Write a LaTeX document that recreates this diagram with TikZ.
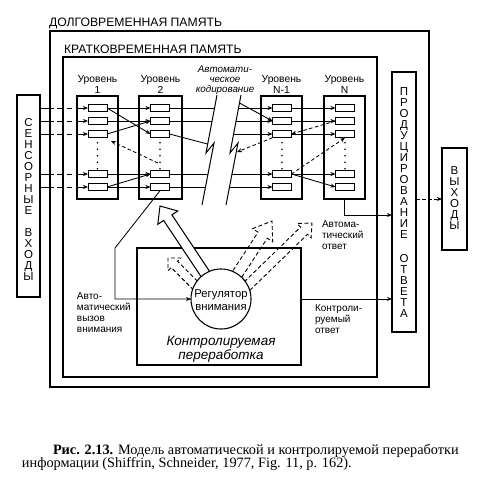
\documentclass[tikz,border=0pt]{standalone}
\usepackage{fontspec}
\setmainfont{Liberation Sans}
\newfontfamily\capfont{Liberation Serif}
\usetikzlibrary{arrows.meta,calc}
\newcommand{\holarrow}[6]{%
  \coordinate (hB) at ($(#3)!#4!(#2)$);
  \draw[#1] ($(#2)!#6!90:(#3)$) -- ($(hB)!#6!90:(#3)$) -- ($(hB)!#5!90:(#3)$) -- (#3)
    -- ($(hB)!#5!-90:(#3)$) -- ($(hB)!#6!-90:(#3)$) -- ($(#2)!#6!-90:(#3)$);}
\begin{document}
\begin{tikzpicture}[x=1pt,y=-1pt,
  every node/.style={inner sep=0pt, outer sep=0pt},
  bigbox/.style={draw, line width=1.4pt},
  lvlbox/.style={draw, line width=1.2pt},
  cell/.style={draw, line width=1pt, minimum width=19pt, minimum height=7.5pt},
  ln/.style={line width=0.85pt},
  conn/.style={ln, -{Stealth[length=5pt,width=4pt]}},
  dconn/.style={conn, dash pattern=on 3.5pt off 2.5pt},
  inconn/.style={conn, dash pattern=on 14pt off 3pt on 5pt off 5pt on 5pt off 4pt on 14pt off 0pt},
  dotline/.style={line width=1.7pt, line cap=round, dash pattern=on 0pt off 6.5pt},
  holl/.style={line width=1pt, fill=white, line join=miter},
  dholl/.style={line width=0.9pt, dash pattern=on 4pt off 2.5pt},
  lab/.style={font=\fontsize{10.3}{11}\selectfont, align=center},
  small/.style={font=\fontsize{10}{11}\selectfont, align=left, anchor=west},
  vlab/.style={font=\fontsize{11.5}{11}\selectfont, align=center},
  title/.style={font=\fontsize{12.2}{12}\selectfont, anchor=west}]
\useasboundingbox[fill=white] (0,0) rectangle (491,480);

% memory boxes
\node[bigbox, minimum width=379pt, minimum height=356pt] (ltm) at (239.5,209) {};
\node[title] (ltmt) at (49,23) {ДОЛГОВРЕМЕННАЯ ПАМЯТЬ};
\node[bigbox, minimum width=314pt, minimum height=320pt] (stm) at (220,217) {};
\node[title] (stmt) at (64,49) {КРАТКОВРЕМЕННАЯ ПАМЯТЬ};

% sensory inputs, production, outputs
\node[bigbox, minimum width=23pt, minimum height=202pt] (sens) at (28.5,196) {};
\node[vlab] (senst) at (28.5,199) {С\\Е\\Н\\С\\О\\Р\\Н\\Ы\\Е\\[11pt]В\\Х\\О\\Д\\Ы};
\node[bigbox, minimum width=24pt, minimum height=260pt] (prod) at (404,202) {};
\node[vlab] (prodt) at (404,203) {П\\Р\\О\\Д\\У\\Ц\\И\\Р\\О\\В\\А\\Н\\И\\Е\\[13pt]О\\Т\\В\\Е\\Т\\А};
\node[bigbox, minimum width=25pt, minimum height=102pt] (outs) at (454.5,199) {};
\node[vlab] (outst) at (454.5,198) {В\\Ы\\Х\\О\\Д\\Ы};

% levels
\node[lvlbox, minimum width=41pt, minimum height=103pt] (L1) at (97.5,147.5) {};
\node[lvlbox, minimum width=43pt, minimum height=103pt] (L2) at (160.5,147.5) {};
\node[lvlbox, minimum width=41pt, minimum height=103pt] (L3) at (281.5,147.5) {};
\node[lvlbox, minimum width=41pt, minimum height=103pt] (L4) at (344.5,147.5) {};
\node[lab] (L1t) at (97.5,84.5) {Уровень\\1};
\node[lab] (L2t) at (160.5,84.5) {Уровень\\2};
\node[lab] (L3t) at (281.5,84.5) {Уровень\\N-1};
\node[lab] (L4t) at (344.5,84.5) {Уровень\\N};
\foreach \n/\x in {a/97.5,b/160,c/282,d/345}{
  \foreach \r/\y in {1/108,2/121,3/134,4/174,5/187}{
    \node[cell] (\n\r) at (\x,\y) {};}
  \draw[dotline] ($(\n3.south)+(0,5)$) -- (\n4.north);}

% automatic coding break
\node[font=\fontsize{9.8}{10}\selectfont\itshape, align=center] (autot) at (225,80) {Автомати-\\ческое\\кодирование};
\draw[ln, line width=1pt] (217,95) -- (206,153) -- (214,143) -- (202,205);
\draw[ln, line width=1pt] (241,95) -- (230,153) -- (238,143) -- (226,205);
\coordinate (zl1) at (214.5,108);
\coordinate (zl2) at (212,121);
\coordinate (zl3) at (207.5,144);
\coordinate (zl4) at (208,174);
\coordinate (zl5) at (205.5,187);
\coordinate (zr1) at (238.5,108);
\coordinate (zr0) at (239.5,103);
\coordinate (zr2) at (236,121);
\coordinate (zr3) at (233.5,134);
\coordinate (zr4) at (232,174);
\coordinate (zr5) at (229.5,187);
\coordinate (zrd) at (237,152);

% inputs
\foreach \r in {1,...,5}{\draw[inconn] (sens.east |- a\r) -- (a\r.west);}

% level 1 -> level 2
\draw[conn] (a1.east) -- (b1.west);
\draw[conn] (a1.east) -- (b3.west);
\draw[conn] (a2.east) -- (b2.west);
\draw[conn] (a3.east) -- (b2.west);
\draw[conn] (a4.east) -- (b4.west);
\draw[conn] (a5.east) -- (b4.west);
\draw[conn] (a5.east) -- (b5.west);
\coordinate (fb1s) at (158,163);
\coordinate (fb1e) at (111,141);
\draw[dconn] (fb1s) -- (fb1e);

% level 2 -> break
\draw[ln] (b1.east) -- (zl1);
\draw[ln] (b2.east) -- (zl2);
\draw[ln] (b3.east) -- (zl3);
\draw[ln] (b4.east) -- (zl4);
\draw[ln] (b5.east) -- (zl5);

% break -> level N-1
\draw[conn] (zr1) -- (c1.west);
\draw[conn] (zr0) -- (c2.west);
\draw[conn] (zr2) -- (c2.west);
\draw[conn] (zr3) -- (c3.west);
\draw[conn] (zr4) -- (c4.west);
\draw[conn] (zr5) -- (c5.west);
\draw[dconn] (c3.south west) -- (zrd);

% level N-1 -> level N
\draw[conn] (c1.east) -- (d1.west);
\draw[conn] (c2.east) -- (d2.west);
\draw[conn] (c3.east) -- (d3.west);
\draw[conn] (c4.east) -- (d4.west);
\draw[conn] (c4.east) -- (d5.west);
\draw[dconn] (d2.west) -- (c3.east);
\draw[dconn] (c4.east) -- (d3.south);

% output of level N
\coordinate (outy) at (0,215);
\draw[conn] (L4.south) |- (prod.west |- outy);
\draw[dconn] (prod.east |- outs) -- (outs.west);

% controlled processing
\node[draw, line width=1.3pt, minimum width=164pt, minimum height=117pt] (ctrl) at (219,306.5) {};
\node[font=\fontsize{13.5}{12.5}\selectfont\itshape, align=center] (ctrlt) at (221,349) {Контролируемая\\переработка};

% automatic attention call
\coordinate (att1) at (115,248);
\coordinate (att2) at (115,299);
\draw[conn] (b5.south) -- (att1) -- (att2) -- (191,299);
\node[small] (attt) at (77,313) {Авто-\\матический\\вызов\\внимания};

% hollow arrows
\coordinate (bigS) at (208,278);
\coordinate (bigT) at (160,206);
\holarrow{holl}{bigS}{bigT}{14pt}{12pt}{5pt}
\coordinate (aS) at (197,287);
\coordinate (aT) at (168,258);
\holarrow{dholl}{aS}{aT}{9pt}{9pt}{4.5pt}
\coordinate (bS) at (234,279);
\coordinate (bT) at (272,221);
\holarrow{dholl}{bS}{bT}{17pt}{12pt}{5.5pt}
\coordinate (cS) at (243,290);
\coordinate (cT) at (312,223);
\holarrow{dholl}{cS}{cT}{11pt}{10pt}{5pt}

% regulator
\node[circle, draw, line width=1.1pt, fill=white, minimum size=60pt] (reg) at (221,299) {};
\node[font=\fontsize{11.3}{12.5}\selectfont, align=center] (regt) at (221,300) {Регулятор\\внимания};
\draw[conn] (ctrl.east |- reg) -- (prod.west |- reg);
\node[small] (autoresp) at (322,235) {Автома-\\тический\\ответ};
\node[small] (ctrlresp) at (315,319) {Контроли-\\руемый\\ответ};

% caption
\node[anchor=base west, font=\capfont\fontsize{14.3}{16}\selectfont] (cap1) at (53,454) {\textbf{Рис. 2.13.} Модель автоматической и контролируемой переработки};
\node[anchor=base west, font=\capfont\fontsize{14.3}{16}\selectfont] (cap2) at (22,467) {информации (Shiffrin, Schneider, 1977, Fig. 11, p. 162).};
\end{tikzpicture}
\end{document}
